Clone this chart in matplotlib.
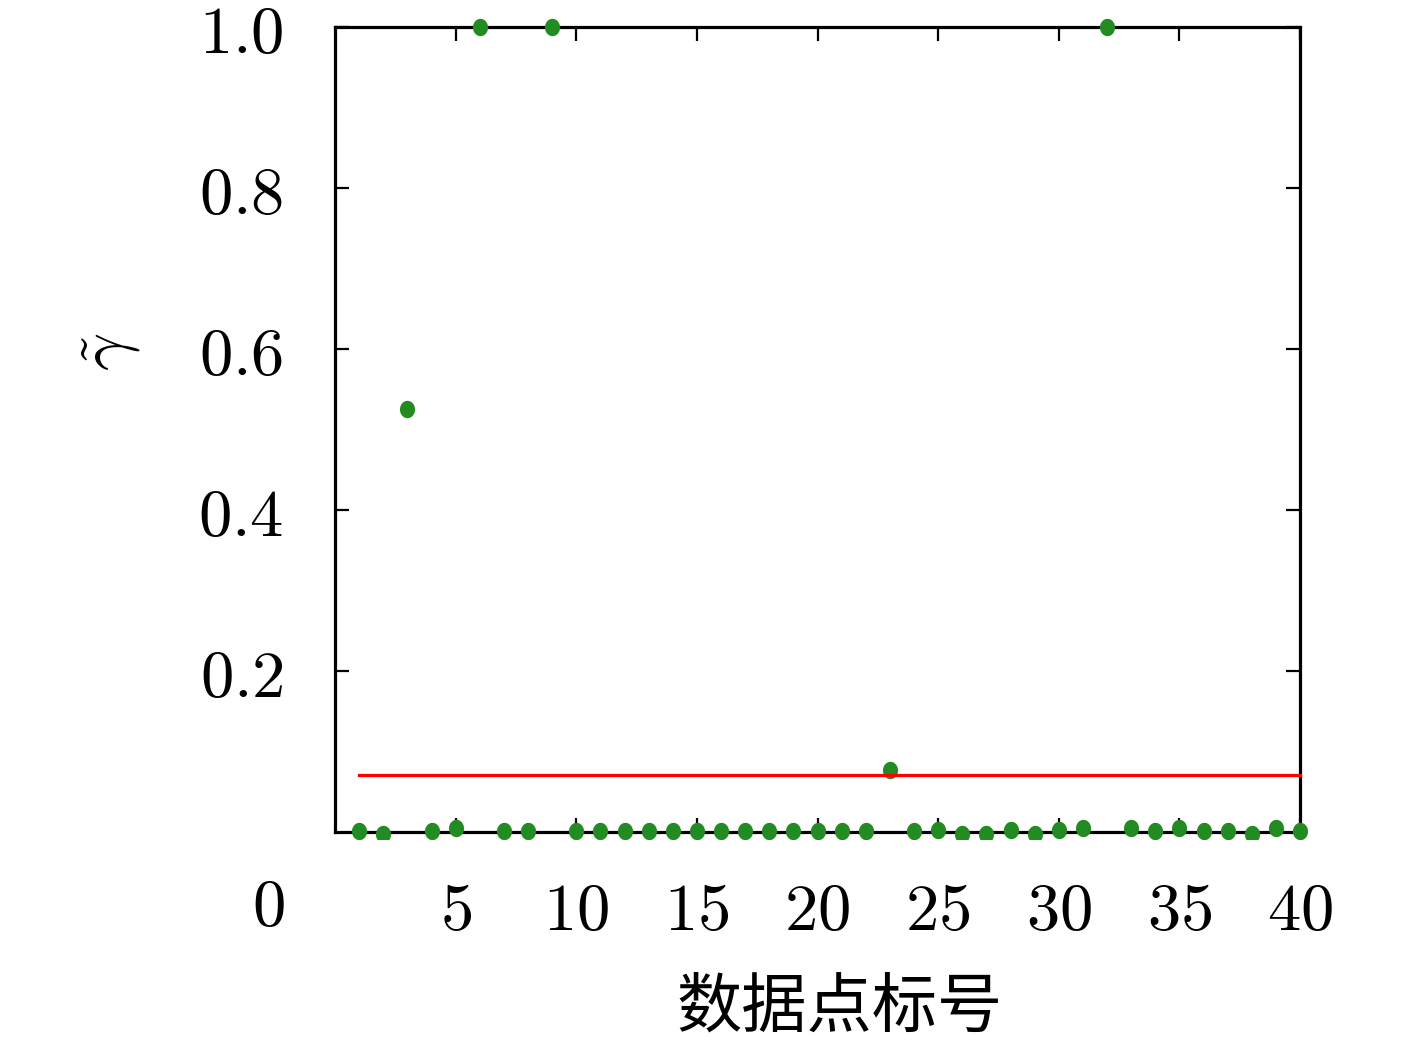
import matplotlib
matplotlib.use("Agg")
import matplotlib.pyplot as plt
import numpy as np
from matplotlib.path import Path
from matplotlib.patches import Rectangle

plt.rcParams['mathtext.fontset'] = 'cm'

# Data
index = list(range(1, 41))
gamma = [0.001, -0.003, 0.525, 0.001, 0.005, 1.0, 0.001, 0.001, 1.0, 0.001,
         0.001, 0.001, 0.001, 0.001, 0.001, 0.001, 0.001, 0.001, 0.001, 0.001,
         0.001, 0.001, 0.077, 0.001, 0.002, -0.003, -0.003, 0.002, -0.003, 0.002,
         0.005, 1.0, 0.005, 0.001, 0.005, 0.001, 0.001, -0.003, 0.005, 0.001]
threshold = 0.0708
threshold_x = [1, 40]
xticks = [5, 10, 15, 20, 25, 30, 35, 40]
yticks = [0.2, 0.4, 0.6, 0.8, 1.0]
ytick_labels = ['0.2', '0.4', '0.6', '0.8', '1.0']
xlabel = '数据点标号'

W, H = 1417, 1044
fig = plt.figure(figsize=(W / 100, H / 100), dpi=100)
ax = fig.add_axes([335 / W, 1 - 832 / H, (1300 - 335) / W, (832 - 27) / H])
ax.set_xlim(0, 40)
ax.set_ylim(0, 1.0)

# ellipse marker (slightly taller than wide)
t = np.linspace(0, 2 * np.pi, 60)
verts = np.column_stack([0.87 * np.cos(t), np.sin(t)])
ell = Path(verts, closed=True)

pts, = ax.plot(index, gamma, linestyle='none', marker=ell, markersize=12.5,
               color='#228B22', markeredgewidth=0, zorder=5)
clip = Rectangle((0, -0.009), 41, 1.2, transform=ax.transData)
pts.set_clip_path(clip)

ax.plot(threshold_x, [threshold, threshold], color='#ff0000', lw=2.3, zorder=6,
        clip_on=False)

for s in ax.spines.values():
    s.set_linewidth(2.3)
    s.set_zorder(4)

ax.set_xticks(xticks)
ax.set_xticklabels(['$%d$' % v for v in xticks], fontsize=48)
ax.set_yticks(yticks)
ax.set_yticklabels(['$%s$' % s for s in ytick_labels], fontsize=48)
ax.tick_params(direction='in', length=10, width=1.6, top=True, right=True)
ax.tick_params(axis='y', pad=37)
ax.tick_params(axis='x', pad=33)

fig.text(268 / W, 1 - 907 / H, '$0$', fontsize=48, ha='center', va='center')
fig.text(110 / W, 1 - 352 / H, r'$\tilde{\gamma}$', fontsize=48, ha='center',
         va='center', rotation=90)
fig.text(840 / W, 1 - 1008 / H, xlabel, fontsize=47, ha='center', va='center',
         family=['Noto Sans CJK SC', 'DejaVu Sans'])

fig.savefig('out.png', dpi=100)
